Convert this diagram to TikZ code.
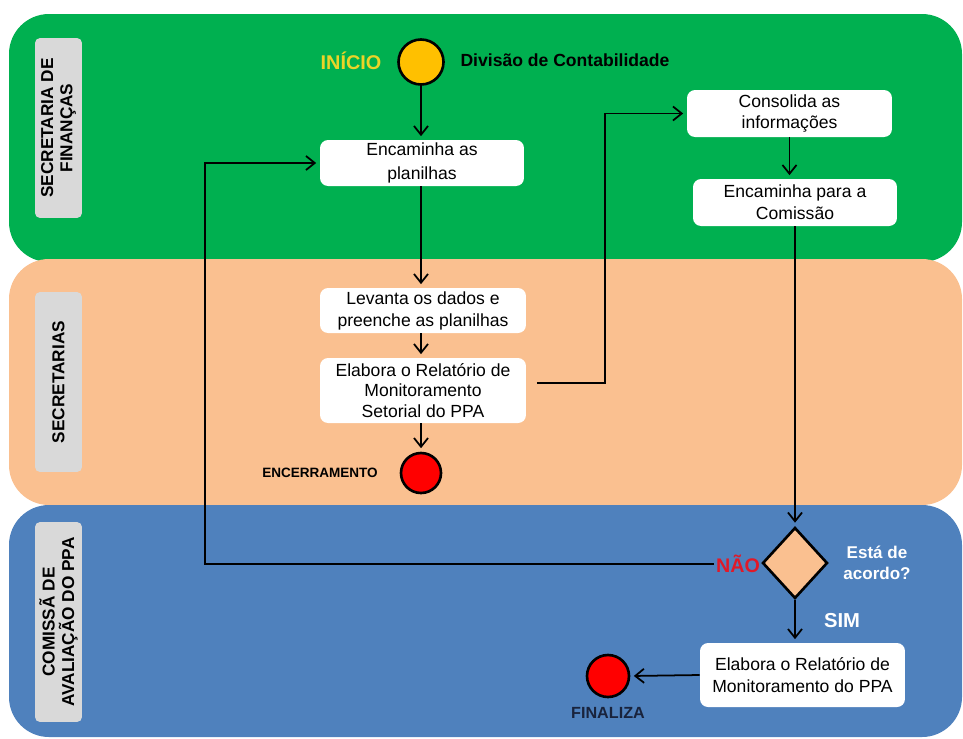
\documentclass[tikz,border=0pt]{standalone}
\usepackage{fontspec}
\setmainfont{Liberation Sans}
\usepackage{tikz}
\usetikzlibrary{shapes.geometric,arrows.meta}

\definecolor{lanegreen}{RGB}{0,176,80}
\definecolor{lanepeach}{RGB}{250,192,144}
\definecolor{laneblue}{RGB}{79,129,189}
\definecolor{labgray}{RGB}{217,217,217}
\definecolor{startorange}{RGB}{255,192,0}
\definecolor{startyellow}{RGB}{235,212,40}
\definecolor{naored}{RGB}{225,25,40}
\definecolor{navytext}{RGB}{25,35,60}

\begin{document}
\begin{tikzpicture}[x=0.02cm,y=-0.02cm,
  box/.style={draw=none,fill=white,rounded corners=0.16cm,align=center,
    font=\fontsize{10}{12.5}\selectfont,inner sep=0pt},
  lanelab/.style={fill=labgray,rounded corners=0.1cm,rotate=90,align=center,
    font=\bfseries\fontsize{9.8}{11}\selectfont,minimum height=0.94cm,inner sep=0pt},
  endpoint/.style={circle,draw=black,line width=1.5pt,fill=red,inner sep=0pt},
  flow/.style={line width=1pt,-{Straight Barb[length=5pt,width=8pt]},shorten >=2pt}]
\useasboundingbox (0,0) rectangle (963,738);

\fill[lanegreen, rounded corners=0.8cm] (9,14) rectangle (962,262);
\fill[lanepeach, rounded corners=0.8cm] (9,259) rectangle (962,505);
\fill[laneblue, rounded corners=0.8cm] (9,505) rectangle (962,737);

\node[lanelab, minimum width=3.6cm] (labfin) at (58.5,128) {SECRETARIA DE\\FINANÇAS};
\node[lanelab, minimum width=3.6cm] (labsec) at (58.5,382) {SECRETARIAS};
\node[lanelab, minimum width=4cm] (labcom) at (58.5,622) {COMISSÃ DE\\AVALIAÇÃO DO PPA};

\node[circle,draw=black,line width=1.5pt,fill=startorange,minimum size=0.9cm,inner sep=0pt] (inicio) at (421,62) {};
\node[font=\bfseries\fontsize{11.3}{13}\selectfont,text=startyellow] (txtinicio) at (351,61) {INÍCIO};
\node[font=\bfseries\fontsize{10}{12}\selectfont] (txtdiv) at (565,60) {Divisão de Contabilidade};

\node[box,minimum width=4.08cm,minimum height=0.92cm,font=\fontsize{10}{14}\selectfont] (encam) at (422,163) {Encaminha as\\planilhas};
\node[box,minimum width=4.12cm,minimum height=0.9cm] (levanta) at (423,310.5) {Levanta os dados e\\preenche as planilhas};
\node[box,minimum width=4.12cm,minimum height=1.3cm,font=\fontsize{10}{11.8}\selectfont] (setor) at (423,390.5) {Elabora o Relatório de\\Monitoramento\\Setorial do PPA};
\node[endpoint,minimum size=0.8cm] (encerra) at (421,473) {};
\node[font=\bfseries\fontsize{7.7}{9}\selectfont] (txtencerra) at (320,473) {ENCERRAMENTO};

\node[box,minimum width=4.1cm,minimum height=0.94cm,font=\fontsize{10}{11.8}\selectfont] (consol) at (789.5,113.5) {Consolida as\\informações};
\node[box,minimum width=4.08cm,minimum height=0.94cm] (comis) at (795,202.5) {Encaminha para a\\Comissão};

\node[diamond,draw=black,line width=1.5pt,fill=lanepeach,minimum width=1.3cm,minimum height=1.42cm,inner sep=0pt] (acordo) at (795,563) {};
\node[font=\bfseries\fontsize{9.7}{12}\selectfont,text=white,align=center] (txtacordo) at (877,563) {Está de\\acordo?};
\node[font=\bfseries\fontsize{11.2}{13}\selectfont,text=naored,inner sep=1pt] (nao) at (738,564) {NÃO};
\node[font=\bfseries\fontsize{11.5}{13}\selectfont,text=white] (sim) at (842,621) {SIM};

\node[box,minimum width=4.1cm,minimum height=1.28cm] (final) at (802.5,675) {Elabora o Relatório de\\Monitoramento do PPA};
\node[endpoint,minimum size=0.84cm] (finaliza) at (608,676) {};
\node[font=\bfseries\fontsize{9.2}{11}\selectfont,text=navytext] (txtfinaliza) at (608,713) {FINALIZA};

\coordinate (k1) at (605,383);
\coordinate (k2) at (205,563);

\draw[flow] (inicio) -- (inicio |- encam.north);
\draw[flow] (inicio |- encam.south) -- (inicio |- levanta.north);
\draw[flow] (inicio |- levanta.south) -- (inicio |- setor.north);
\draw[flow] (inicio |- setor.south) -- (encerra);
\draw[flow,shorten <=6pt] (setor.east |- k1) -| (k1) |- (consol.west);
\draw[flow] (consol) -- (consol |- comis.north);
\draw[flow] (comis) -- (acordo.north);
\draw[flow] (nao.west) -| (k2) |- (encam.west);
\draw[flow] (acordo.south) -- (acordo.south |- final.north);
\draw[flow] (final.west) -- (finaliza.east);
\end{tikzpicture}
\end{document}
